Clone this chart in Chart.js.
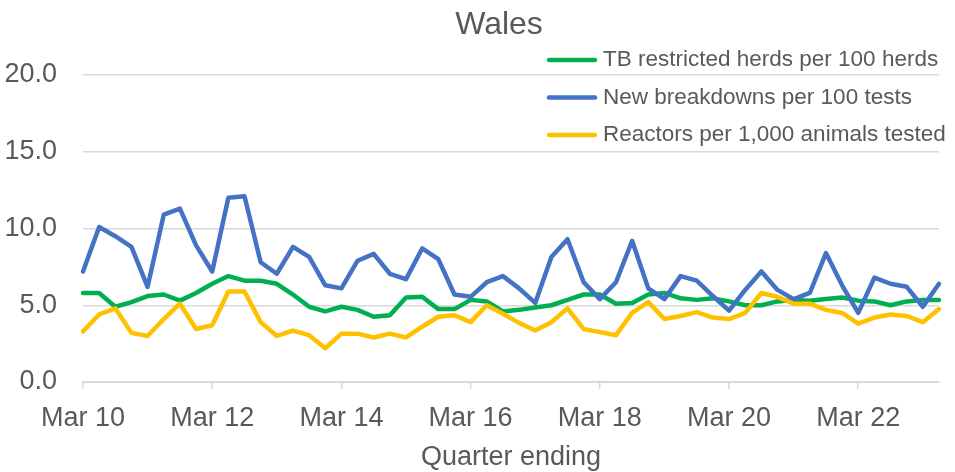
<!DOCTYPE html>
<html>
<head>
<meta charset="utf-8">
<title>Wales</title>
<script src="https://cdn.jsdelivr.net/npm/chart.js@4"></script>
<style>
  html, body { margin: 0; padding: 0; background: #ffffff; }
  #wrap { width: 955px; height: 472px; position: relative; }
</style>
</head>
<body>
<div id="wrap"><canvas id="walesChart"></canvas></div>
<script>
// quarter ending labels
const quarters = [
  "Mar 10", "Jun 10", "Sep 10", "Dec 10", "Mar 11", "Jun 11", "Sep 11", "Dec 11",
  "Mar 12", "Jun 12", "Sep 12", "Dec 12", "Mar 13", "Jun 13", "Sep 13", "Dec 13",
  "Mar 14", "Jun 14", "Sep 14", "Dec 14", "Mar 15", "Jun 15", "Sep 15", "Dec 15",
  "Mar 16", "Jun 16", "Sep 16", "Dec 16", "Mar 17", "Jun 17", "Sep 17", "Dec 17",
  "Mar 18", "Jun 18", "Sep 18", "Dec 18", "Mar 19", "Jun 19", "Sep 19", "Dec 19",
  "Mar 20", "Jun 20", "Sep 20", "Dec 20", "Mar 21", "Jun 21", "Sep 21", "Dec 21",
  "Mar 22", "Jun 22", "Sep 22", "Dec 22", "Mar 23", "Jun 23",
]

const restrictedHerds = [
  5.8, 5.8, 4.9, 5.2, 5.6, 5.7, 5.3, 5.8, 6.4, 6.9, 6.6, 6.6, 6.4, 5.7, 4.9, 4.6,
  4.9, 4.7, 4.25, 4.35, 5.5, 5.55, 4.75, 4.75, 5.35, 5.25, 4.6, 4.7, 4.85, 5.0, 5.35, 5.7,
  5.7, 5.1, 5.15, 5.7, 5.8, 5.45, 5.35, 5.45, 5.25, 5.0, 5.0, 5.25, 5.35, 5.3, 5.4, 5.5,
  5.3, 5.25, 5.0, 5.25, 5.35, 5.35,
]

const newBreakdowns = [
  7.2, 10.1, 9.5, 8.8, 6.2, 10.9, 11.3, 8.9, 7.2, 12.0, 12.1, 7.8, 7.05, 8.8, 8.15, 6.3,
  6.1, 7.9, 8.35, 7.05, 6.7, 8.7, 8.0, 5.7, 5.55, 6.5, 6.9, 6.1, 5.15, 8.15, 9.3, 6.5,
  5.4, 6.5, 9.2, 6.1, 5.4, 6.9, 6.6, 5.6, 4.65, 6.0, 7.2, 6.0, 5.4, 5.8, 8.4, 6.3,
  4.5, 6.8, 6.4, 6.2, 4.9, 6.4,
]

const reactors = [
  3.3, 4.4, 4.8, 3.2, 3.0, 4.1, 5.1, 3.45, 3.7, 5.9, 5.9, 3.9, 3.0, 3.35, 3.05, 2.2,
  3.15, 3.15, 2.9, 3.15, 2.9, 3.6, 4.25, 4.35, 3.9, 5.0, 4.45, 3.85, 3.35, 3.9, 4.8, 3.45,
  3.25, 3.05, 4.5, 5.2, 4.1, 4.3, 4.55, 4.2, 4.1, 4.5, 5.8, 5.55, 5.1, 5.1, 4.7, 4.5,
  3.8, 4.2, 4.4, 4.3, 3.9, 4.75,
]

const yTicks = [0, 5, 10, 15, 20]
const chartTitle = "Wales"

const textColor = "#595959"
const gridColor = "#d9d9d9"
const fontFamily = "'Liberation Sans', Arial, sans-serif"

// Excel style title + legend; the legend sits over the top right of the plot
const excelHeader = {
  id: "excelHeader",
  afterDraw(chart) {
    const ctx = chart.ctx
    ctx.save()
    ctx.fillStyle = textColor
    ctx.textBaseline = "middle"

    ctx.textAlign = "center"
    ctx.font = "32px " + fontFamily
    ctx.fillText(chartTitle, 499, 25)

    ctx.textAlign = "left"
    ctx.font = "22.5px " + fontFamily
    chart.data.datasets.forEach((ds, i) => {
      const y = 60 + i * 37.5
      ctx.strokeStyle = ds.borderColor
      ctx.lineWidth = 4.5
      ctx.lineCap = "round"
      ctx.beginPath()
      ctx.moveTo(549, y)
      ctx.lineTo(595, y)
      ctx.stroke()
      ctx.fillText(ds.label, 603, y)
    })
    ctx.restore()
  },
}

function lineSeries(label, data, color, order) {
  return {
    label: label,
    data: data,
    borderColor: color,
    backgroundColor: color,
    borderWidth: 4.5,
    borderJoinStyle: "round",
    borderCapStyle: "round",
    pointRadius: 0,
    tension: 0,
    fill: false,
    order: order,
  }
}

new Chart(document.getElementById("walesChart"), {
  type: "line",
  data: {
    labels: quarters,
    datasets: [
      lineSeries("TB restricted herds per 100 herds", restrictedHerds, "#00B050", 3),
      lineSeries("New breakdowns per 100 tests", newBreakdowns, "#4472C4", 2),
      lineSeries("Reactors per 1,000 animals tested", reactors, "#FFC000", 1),
    ],
  },
  options: {
    responsive: true,
    maintainAspectRatio: false,
    animation: false,
    layout: {
      padding: { left: 0, right: 16, top: 75, bottom: 0 },
    },
    plugins: {
      legend: { display: false },
      tooltip: { enabled: false },
      title: { display: false },
    },
    scales: {
      x: {
        type: "category",
        offset: false,
        afterFit: (scale) => {
          scale.height = 90
        },
        grid: {
          display: true,
          drawOnChartArea: false,
          drawTicks: true,
          tickLength: 7,
          color: gridColor,
          lineWidth: 1.5,
        },
        border: { display: true, color: gridColor, width: 2 },
        ticks: {
          autoSkip: false,
          maxRotation: 0,
          minRotation: 0,
          padding: 13,
          color: textColor,
          font: { family: fontFamily, size: 27 },
          callback: function (value, index) {
            return index % 8 === 0 ? quarters[index] : null
          },
        },
        title: {
          display: true,
          text: "Quarter ending",
          color: textColor,
          font: { family: fontFamily, size: 27, lineHeight: 1.1 },
          padding: { top: 0, bottom: 0 },
        },
      },
      y: {
        min: yTicks[0],
        max: yTicks[yTicks.length - 1],
        afterFit: (scale) => {
          scale.width = 83
        },
        afterBuildTicks: (scale) => {
          scale.ticks = yTicks.map((v) => ({ value: v }))
        },
        grid: {
          color: gridColor,
          lineWidth: 1.5,
          drawTicks: false,
        },
        border: { display: false },
        ticks: {
          padding: 26,
          color: textColor,
          font: { family: fontFamily, size: 27 },
          callback: (value) => value.toFixed(1),
        },
      },
    },
  },
  plugins: [excelHeader],
})
</script>
</body>
</html>
